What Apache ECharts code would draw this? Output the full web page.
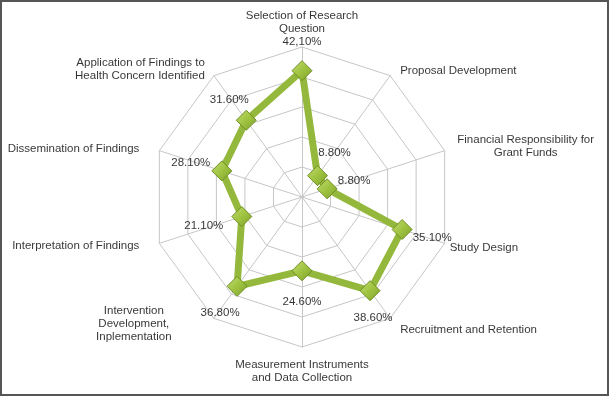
<!DOCTYPE html>
<html>
<head>
<meta charset="utf-8">
<script src="https://cdn.jsdelivr.net/npm/echarts@6/dist/echarts.min.js"></script>
<style>
html,body{margin:0;padding:0;background:#fff;}
#wrap{position:absolute;left:0;top:0;width:609px;height:396px;box-sizing:border-box;border:2px solid #555;background:#fff;}
#chart{position:absolute;left:-2px;top:-2px;width:609px;height:396px;}
</style>
</head>
<body>
<div id="wrap"><div id="chart"></div></div>
<script>
// Categories in counter-clockwise order starting at the top
const categories = [
  "Selection of Research\nQuestion",
  "Application of Findings to\nHealth Concern Identified",
  "Dissemination of Findings",
  "Interpretation of Findings",
  "Intervention\nDevelopment,\nInplementation",
  "Measurement Instruments\nand Data Collection",
  "Recruitment and Retention",
  "Study Design",
  "Financial Responsibility for\nGrant Funds",
  "Proposal Development"
];
const values = [42.1, 31.6, 28.1, 21.1, 36.8, 24.6, 38.6, 35.1, 8.8, 8.8];
const valueLabels = ["42,10%", "31.60%", "28.10%", "21.10%", "36.80%", "24.60%", "38.60%", "35.10%", "8.80%", "8.80%"];
const axisMax = 50;

// label placement styles (kept separate from data)
const nameStyles = [
  {align:'center', offset:[0,-25]},
  {align:'right', offset:[-9,-6]},
  {align:'right', offset:[-20,-2]},
  {align:'right', offset:[-20,2]},
  {align:'center', offset:[-80,5]},
  {align:'center', offset:[0,24]},
  {align:'left', offset:[10,11]},
  {align:'left', offset:[5,4]},
  {align:'center', offset:[81,-4]},
  {align:'left', offset:[10,-5]}
];
const valueStyles = [
  {offset:[0,-29]},
  {offset:[-17,-20]},
  {offset:[-31,-8]},
  {offset:[-38,9]},
  {offset:[-17,27]},
  {offset:[0,31]},
  {offset:[3,27]},
  {offset:[30,8]},
  {offset:[27,-8]},
  {offset:[17,-23]}
];

const FONT = 'Liberation Sans, Arial, sans-serif';
const FS = 11.5;
const center = [302, 197];
const radius = 150;

const chart = echarts.init(document.getElementById('chart'), null, {renderer:'canvas'});

const nameData = categories.map((c, i) => ({
  value: [axisMax, i],
  label: {
    show: true, position: 'inside', formatter: c,
    align: nameStyles[i].align, verticalAlign: 'middle',
    offset: nameStyles[i].offset
  }
}));
const valueData = values.map((v, i) => ({
  value: [v, i],
  label: {
    show: true, position: 'inside', formatter: valueLabels[i],
    align: 'center', verticalAlign: 'middle',
    offset: valueStyles[i].offset
  }
}));

const option = {
  animation: false,
  backgroundColor: 'transparent',
  radar: {
    center: center,
    radius: radius,
    startAngle: 90,
    shape: 'polygon',
    splitNumber: 5,
    indicator: categories.map(c => ({name: c, max: axisMax, min: 0})),
    axisName: {show: false},
    splitArea: {show: false},
    splitLine: {lineStyle: {color: '#c6c6c6', width: 1}},
    axisLine: {lineStyle: {color: '#c6c6c6', width: 1}},
    axisTick: {show: false},
    axisLabel: {show: false}
  },
  polar: {center: center, radius: radius},
  angleAxis: {
    type: 'category', data: categories, startAngle: 90, clockwise: false,
    boundaryGap: false,
    axisLine: {show: false}, axisTick: {show: false}, axisLabel: {show: false}, splitLine: {show: false}
  },
  radiusAxis: {
    type: 'value', min: 0, max: axisMax,
    axisLine: {show: false}, axisTick: {show: false}, axisLabel: {show: false}, splitLine: {show: false}
  },
  series: [
    {
      type: 'radar',
      z: 2,
      symbol: 'diamond',
      symbolSize: 20,
      lineStyle: {color: '#94b83c', width: 7},
      itemStyle: {
        color: new echarts.graphic.LinearGradient(0, 0, 1, 1, [
          {offset: 0, color: '#c2dc72'},
          {offset: 0.5, color: '#9fc340'},
          {offset: 1, color: '#7d9f2c'}
        ]),
        borderColor: '#6f8f25', borderWidth: 1
      },
      data: [{value: values}]
    },
    {
      type: 'scatter', coordinateSystem: 'polar', z: 5,
      symbolSize: 1, itemStyle: {color: 'rgba(0,0,0,0)'},
      silent: true,
      label: {color: '#000', fontFamily: FONT, fontSize: FS, lineHeight: 13},
      data: nameData
    },
    {
      type: 'scatter', coordinateSystem: 'polar', z: 5,
      symbolSize: 1, itemStyle: {color: 'rgba(0,0,0,0)'},
      silent: true,
      label: {color: '#000', fontFamily: FONT, fontSize: FS, lineHeight: 13},
      data: valueData
    }
  ]
};
chart.setOption(option);
</script>
</body>
</html>
